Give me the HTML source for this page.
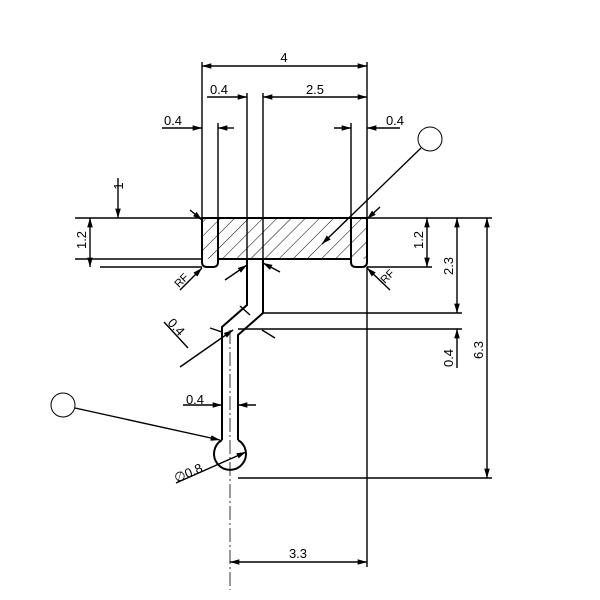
<!DOCTYPE html>
<html><head><style>body{margin:0;background:#fff}svg{display:block}</style></head><body>
<svg width="600" height="600" viewBox="0 0 600 600" xmlns="http://www.w3.org/2000/svg" font-family="Liberation Sans, sans-serif" font-size="13">
<defs>
<pattern id="h" width="10" height="10" patternUnits="userSpaceOnUse" patternTransform="rotate(45)"><line x1="0" y1="0" x2="0" y2="10" stroke="#000" stroke-width="1"/></pattern>
<marker id="a" viewBox="0 0 10 6" refX="10" refY="3" markerWidth="8" markerHeight="4" orient="auto-start-reverse"><path d="M0 0L10 3L0 6z" fill="#000"/></marker>
</defs>
<g stroke="#000" fill="none" stroke-width="1.4">
<rect x="202" y="218" width="165" height="41" fill="url(#h)" stroke="none"/>
<path d="M202 218H367V262Q367 267 362 267H356Q351 267 351 262V218" stroke-width="2"/>
<path d="M202 218V262Q202 267 207 267H213Q218 267 218 262V218" stroke-width="2"/>
<path d="M218 259H351" stroke-width="2"/>
<path d="M247 259V305L222 327V440" stroke-width="2"/>
<path d="M263 259V313L238 335V440" stroke-width="2"/>
<path d="M222 440A16 16 0 1 0 238 440" stroke-width="2"/>
<line x1="230" y1="330" x2="230" y2="590" stroke-dasharray="14,3,2,3" stroke-width="0.8"/>
<line x1="202" y1="62" x2="202" y2="218"/><line x1="367" y1="62" x2="367" y2="218"/>
<line x1="247" y1="93" x2="247" y2="259"/><line x1="263" y1="93" x2="263" y2="259"/>
<line x1="218" y1="123" x2="218" y2="218"/><line x1="351" y1="123" x2="351" y2="218"/>
<line x1="75" y1="218" x2="492" y2="218"/>
<line x1="75" y1="259" x2="202" y2="259"/><line x1="100" y1="267" x2="202" y2="267"/>
<line x1="367" y1="267" x2="432" y2="267"/>
<line x1="263" y1="313" x2="462" y2="313"/><line x1="238" y1="329" x2="462" y2="329"/>
<line x1="238" y1="478" x2="492" y2="478"/>
<line x1="367" y1="267" x2="367" y2="567"/>
<line x1="202" y1="66" x2="367" y2="66" marker-start="url(#a)" marker-end="url(#a)"/>
<line x1="207" y1="97" x2="247" y2="97" marker-end="url(#a)"/>
<line x1="263" y1="97" x2="367" y2="97" marker-start="url(#a)" marker-end="url(#a)"/>
<line x1="162" y1="128" x2="202" y2="128" marker-end="url(#a)"/><line x1="234" y1="128" x2="218" y2="128" marker-end="url(#a)"/>
<line x1="334" y1="128" x2="351" y2="128" marker-end="url(#a)"/><line x1="400" y1="128" x2="367" y2="128" marker-end="url(#a)"/>
<line x1="118" y1="178" x2="118" y2="218" marker-end="url(#a)"/>
<line x1="90" y1="218" x2="90" y2="267" marker-start="url(#a)" marker-end="url(#a)"/>
<line x1="427" y1="218" x2="427" y2="267" marker-start="url(#a)" marker-end="url(#a)"/>
<line x1="457" y1="218" x2="457" y2="313" marker-start="url(#a)" marker-end="url(#a)"/>
<line x1="457" y1="368" x2="457" y2="329" marker-end="url(#a)"/>
<line x1="487" y1="218" x2="487" y2="478" marker-start="url(#a)" marker-end="url(#a)"/>
<line x1="230" y1="562" x2="367" y2="562" marker-start="url(#a)" marker-end="url(#a)"/>
<line x1="183" y1="405" x2="222" y2="405" marker-end="url(#a)"/><line x1="256" y1="405" x2="238" y2="405" marker-end="url(#a)"/>
<line x1="190" y1="210" x2="202" y2="220" marker-end="url(#a)"/><line x1="380" y1="207" x2="367" y2="219" marker-end="url(#a)"/>
<line x1="180" y1="290" x2="202" y2="268" marker-end="url(#a)"/><line x1="390" y1="290" x2="367" y2="268" marker-end="url(#a)"/>
<line x1="225" y1="280" x2="247" y2="265" marker-end="url(#a)"/><line x1="280" y1="272" x2="263" y2="263" marker-end="url(#a)"/>
<line x1="164" y1="322" x2="188" y2="348"/><line x1="180" y1="367" x2="233" y2="330" marker-end="url(#a)"/>
<line x1="210" y1="328" x2="222" y2="332"/><line x1="240" y1="306" x2="250" y2="315"/><line x1="262" y1="330" x2="275" y2="338"/>
<line x1="176" y1="483" x2="246" y2="452" marker-end="url(#a)"/>
<circle cx="430" cy="139" r="12" stroke-width="1"/><line x1="421" y1="148" x2="322" y2="244" marker-end="url(#a)"/>
<circle cx="63" cy="405" r="12" stroke-width="1"/><line x1="75" y1="408" x2="220" y2="440" marker-end="url(#a)"/>
</g>
<g fill="#000">
<text x="284" y="62" text-anchor="middle">4</text>
<text x="219" y="94" text-anchor="middle">0.4</text>
<text x="315" y="94" text-anchor="middle">2.5</text>
<text x="173" y="125" text-anchor="middle">0.4</text>
<text x="395" y="125" text-anchor="middle">0.4</text>
<text x="195" y="404" text-anchor="middle">0.4</text>
<text x="298" y="558" text-anchor="middle">3.3</text>
<text transform="translate(123,186) rotate(-90)" text-anchor="middle">1</text>
<text transform="translate(86,240) rotate(-90)" text-anchor="middle">1.2</text>
<text transform="translate(423,240) rotate(-90)" text-anchor="middle">1.2</text>
<text transform="translate(453,266) rotate(-90)" text-anchor="middle">2.3</text>
<text transform="translate(453,358) rotate(-90)" text-anchor="middle">0.4</text>
<text transform="translate(483,350) rotate(-90)" text-anchor="middle">6.3</text>
<text transform="translate(184,283) rotate(-45)" text-anchor="middle" font-size="11">RF</text>
<text transform="translate(390,279) rotate(-45)" text-anchor="middle" font-size="11">RF</text>
<text transform="translate(173,330) rotate(47)" text-anchor="middle">0.4</text>
<text transform="translate(190,477) rotate(-23)" text-anchor="middle">∅0.8</text>
</g>
</svg>
</body></html>
